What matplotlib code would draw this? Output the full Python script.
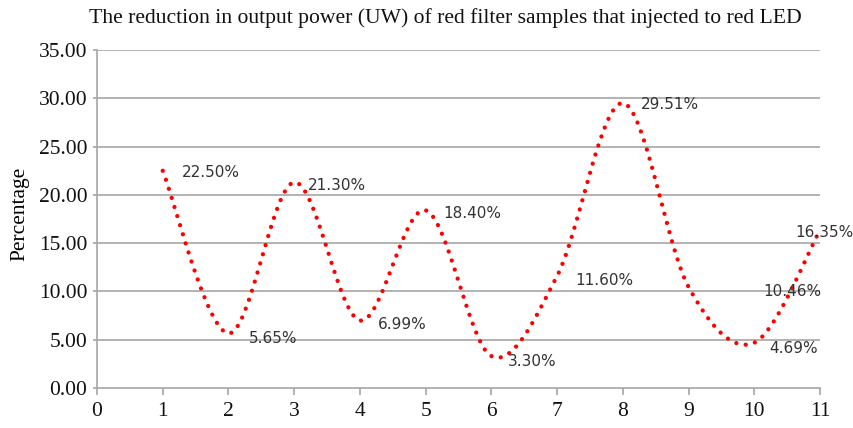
import numpy as np
import matplotlib
matplotlib.use("Agg")
import matplotlib.pyplot as plt

samples = [1, 2, 3, 4, 5, 6, 7, 8, 9, 10, 11]
reduction = [22.50, 5.65, 21.30, 6.99, 18.40, 3.30, 11.60, 29.51, 10.46, 4.69, 16.35]
labels = ["22.50%", "5.65%", "21.30%", "6.99%", "18.40%", "3.30%", "11.60%",
          "29.51%", "10.46%", "4.69%", "16.35%"]
yticks = [0, 5, 10, 15, 20, 25, 30, 35]
xticks = [0, 1, 2, 3, 4, 5, 6, 7, 8, 9, 10, 11]

# label offsets in points (layout only)
label_offsets = [(14, -1), (15, -4), (10, -2), (13, -3), (13, -2), (12, -4),
                 (13, -3), (13, -1), (54, -3), (11, -4), (-18, -2)]


def smooth_curve(x, y, n=40):
    """Excel-like smoothed line (Catmull-Rom as cubic Bezier)."""
    x = np.asarray(x, float)
    y = np.asarray(y, float)
    P = np.column_stack([x, y])
    P_ext = np.vstack([P[0], P, P[-1]])
    out = []
    t = np.linspace(0, 1, n)[:, None]
    for i in range(len(P) - 1):
        p0, p1, p2, p3 = P_ext[i], P_ext[i + 1], P_ext[i + 2], P_ext[i + 3]
        c1 = p1 + (p2 - p0) / 6.0
        c2 = p2 - (p3 - p1) / 6.0
        seg = ((1 - t) ** 3) * p1 + 3 * ((1 - t) ** 2) * t * c1 + 3 * (1 - t) * t ** 2 * c2 + t ** 3 * p2
        out.append(seg if i == 0 else seg[1:])
    seg = np.vstack(out)
    return seg[:, 0], seg[:, 1]


fig = plt.figure(figsize=(8.54, 4.28), dpi=100)
ax = fig.add_axes([0.1136, 0.0935, 0.8466, 0.7895])

serif = "Liberation Serif"
gray = "#a6a6a6"

for yv in yticks[1:]:
    ax.axhline(yv, color=gray, lw=1.2, zorder=0)

sx, sy = smooth_curve(samples, reduction)
ax.plot(sx, sy, color="#ff0000", lw=3.1, linestyle=(0, (0.01, 2.2)),
        dash_capstyle="round", zorder=3, clip_on=False)

for xv, yv, lab, off in zip(samples, reduction, labels, label_offsets):
    ax.annotate(lab, (xv, yv), xytext=off, textcoords="offset points",
                ha="left", va="center", fontsize=11, color="#333333",
                family="DejaVu Sans", zorder=4)

ax.set_xlim(0, 11)
ax.set_ylim(0, 35)
ax.set_xticks(xticks)
ax.set_xticklabels([str(v) for v in xticks])
ax.set_yticks(yticks)
ax.set_yticklabels([f"{v:.2f}" for v in yticks])

for s in ["top", "right"]:
    ax.spines[s].set_visible(False)
for s in ["left", "bottom"]:
    ax.spines[s].set_color(gray)
    ax.spines[s].set_linewidth(1.2)

ax.tick_params(axis="x", direction="out", length=5, color=gray, width=1.2,
               labelsize=15.5, pad=5)
ax.tick_params(axis="y", direction="out", length=3, color=gray, width=1.2,
               labelsize=15.5, pad=4)
for lab in ax.get_xticklabels() + ax.get_yticklabels():
    lab.set_family(serif)
    lab.set_color("#111111")

ax.set_ylabel("Percentage", family=serif, fontsize=15.5, labelpad=2)
ax.yaxis.set_label_coords(-0.093, 0.515)
fig.text(0.522, 0.957, "The reduction in output power (UW) of red filter samples that injected to red LED",
         ha="center", va="center", family=serif, fontsize=15.6, color="#111111")

fig.savefig("out.png", dpi=100)
